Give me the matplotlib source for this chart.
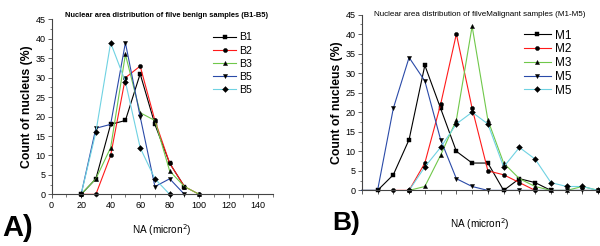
import matplotlib
matplotlib.use("Agg")
import matplotlib.pyplot as plt
from matplotlib.ticker import MultipleLocator, NullFormatter

plt.rcParams['font.family'] = ['Liberation Sans', 'DejaVu Sans']

# ---- Panel A: benign samples ----
xb_b1 = [20, 30, 40, 50, 60, 70, 80, 90]
b1 = [0, 4, 18, 19, 31, 18, 8, 2]
xb_b2 = [20, 30, 40, 50, 60, 70, 80, 90, 100]
b2 = [0, 0, 10, 30, 33, 19, 8, 2, 0]
xb_b3 = [20, 30, 40, 50, 60, 70, 80, 90, 100]
b3 = [0, 4, 12, 36, 21, 19, 6, 2, 0]
xb_b5 = [20, 30, 40, 50, 60, 70, 80, 90]
b5 = [0, 17, 18, 39, 20, 2, 4, 0]
xb_b5b = [20, 30, 40, 50, 60, 70, 80]
b5b = [0, 16, 39, 29, 12, 4, 0]
benign_labels = ["B1", "B2", "B3", "B5", "B5"]

# ---- Panel B: malignant samples ----
xm_m1 = [0, 10, 20, 30, 40, 50, 60, 70, 80, 90, 100, 110, 120]
m1 = [0, 0, 4, 13, 32, 21, 10, 7, 7, 0, 3, 2, 0]
xm_m2 = [20, 30, 40, 50, 60, 70, 80, 90, 100, 110]
m2 = [0, 0, 7, 22, 40, 21, 5, 4, 2, 0]
xm_m3 = [30, 40, 50, 60, 70, 80, 90, 100, 110, 120, 130, 140, 150]
m3 = [0, 1, 9, 18, 42, 18, 7, 3, 1, 0, 0, 1, 0]
xm_m5 = [0, 10, 20, 30, 40, 50, 60, 70, 80, 90, 100, 110, 120, 130, 140, 150]
m5 = [0, 0, 21, 34, 28, 13, 3, 1, 0, 0, 0, 0, 0, 0, 0, 0]
xm_m5b = [30, 40, 50, 60, 70, 80, 90, 100, 110, 120, 130, 140, 150]
m5b = [0, 6, 11, 17, 20, 17, 6, 11, 8, 2, 1, 1, 0]
malig_labels = ["M1", "M2", "M3", "M5", "M5"]

colors = ["#000000", "#ff1a1a", "#70c84a", "#2a4aa8", "#6fd2e2"]
markers = ["s", "o", "^", "v", "D"]

fig = plt.figure(figsize=(6.0, 2.46), dpi=100)

axA = fig.add_axes([0.086, 0.210, 0.369, 0.711])
axB = fig.add_axes([0.603, 0.226, 0.394, 0.715])

seriesA = [(xb_b1, b1), (xb_b2, b2), (xb_b3, b3), (xb_b5, b5), (xb_b5b, b5b)]
seriesB = [(xm_m1, m1), (xm_m2, m2), (xm_m3, m3), (xm_m5, m5), (xm_m5b, m5b)]

for ax, series, labels in [(axA, seriesA, benign_labels), (axB, seriesB, malig_labels)]:
    for (xs, ys), c, mk, lab in zip(series, colors, markers, labels):
        every = [i for i, xv in enumerate(xs) if xv > 0]
        ax.plot(xs, ys, color=c, lw=0.8, marker=mk, markersize=3.0,
                markevery=every,
                markerfacecolor="black", markeredgecolor="black",
                markeredgewidth=0.3, label=lab, clip_on=False)
    ax.set_xlim(0, 150)
    ax.set_ylim(0, 45)
    for s in ["top", "right"]:
        ax.spines[s].set_visible(False)
    for s in ["left", "bottom"]:
        ax.spines[s].set_color("#444444")
        ax.spines[s].set_linewidth(0.8)
    ax.yaxis.set_major_locator(MultipleLocator(5))
    ax.yaxis.set_minor_locator(MultipleLocator(2.5))
    ax.tick_params(axis="both", which="major", direction="out", length=3,
                   width=0.6, labelsize=6.5, pad=1.5, colors="#444444",
                   labelcolor="black")
    ax.tick_params(axis="both", which="minor", direction="out", length=1.8,
                   width=0.5, colors="#444444")
    ax.set_ylabel("Count of nucleus (%)", fontsize=8.8, fontweight="bold", labelpad=2)

axA.xaxis.set_major_locator(MultipleLocator(20))
axA.xaxis.set_minor_locator(MultipleLocator(10))
axA.set_xlabel("NA (micron$^2$)", fontsize=7.2, labelpad=9)
axA.text(0.52, 1.025, "Nuclear area distribution of filve benign samples (B1-B5)",
         transform=axA.transAxes, ha="center", va="center",
         fontsize=5.4, fontweight="bold")
axA.legend(loc="upper right", fontsize=7.6, frameon=False, handlelength=2.2,
           handletextpad=0.3, labelspacing=0.3, bbox_to_anchor=(0.95, 0.98))

axB.xaxis.set_major_locator(MultipleLocator(10))
axB.xaxis.set_major_formatter(NullFormatter())
axB.set_xlabel("NA (micron$^2$)", fontsize=7.2, labelpad=14)
axB.text(0.5, 1.0, "Nuclear area distribution of filveMalignant samples (M1-M5)",
         transform=axB.transAxes, ha="center", va="center", fontsize=5.8)
axB.legend(loc="upper right", fontsize=8.5, frameon=False, handlelength=2.3,
           handletextpad=0.3, labelspacing=0.15, bbox_to_anchor=(0.93, 0.975))

fig.text(0.003, 0.04, "A)", fontsize=21, fontweight="bold")
fig.text(0.553, 0.065, "B)", fontsize=19, fontweight="bold")

fig.savefig("out.png", dpi=100)
